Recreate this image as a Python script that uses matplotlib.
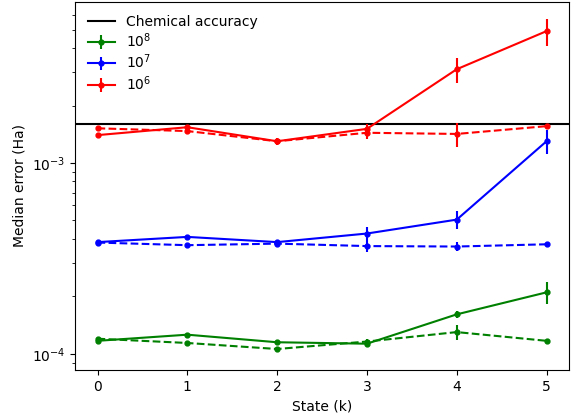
import numpy as np
import matplotlib
matplotlib.use("Agg")
import matplotlib.pyplot as plt


#States and chemical accuracy
states = [0, 1, 2, 3, 4, 5]
chem_acc = 1.6e-3

#Median errors (Ha), solid and dashed series per shot count
err_1e8_solid = [1.17e-4, 1.26e-4, 1.15e-4, 1.13e-4, 1.61e-4, 2.10e-4]
err_1e8_dash = [1.20e-4, 1.14e-4, 1.06e-4, 1.16e-4, 1.30e-4, 1.17e-4]
err_1e7_solid = [3.85e-4, 4.10e-4, 3.85e-4, 4.27e-4, 5.05e-4, 1.30e-3]
err_1e7_dash = [3.83e-4, 3.71e-4, 3.78e-4, 3.67e-4, 3.65e-4, 3.75e-4]
err_1e6_solid = [1.40e-3, 1.54e-3, 1.30e-3, 1.51e-3, 3.10e-3, 4.91e-3]
err_1e6_dash = [1.52e-3, 1.47e-3, 1.30e-3, 1.44e-3, 1.42e-3, 1.56e-3]

#Error bar half-widths
sd_1e8_solid = [2e-6, 3e-6, 2e-6, 3e-6, 7e-6, 2.7e-5]
sd_1e8_dash = [2e-6, 2e-6, 3e-6, 4e-6, 1.2e-5, 2e-6]
sd_1e7_solid = [5e-6, 5e-6, 6e-6, 3.7e-5, 5.5e-5, 1.9e-4]
sd_1e7_dash = [4e-6, 4e-6, 5e-6, 2.5e-5, 2e-5, 4e-6]
sd_1e6_solid = [2e-5, 3e-5, 5e-5, 1e-4, 4.7e-4, 8e-4]
sd_1e6_dash = [2e-5, 4e-5, 3e-5, 1e-4, 2e-4, 2e-5]


fig, ax = plt.subplots(figsize=(5.73, 4.17), dpi=100)
fig.subplots_adjust(left=0.131, right=0.993, top=0.995, bottom=0.113)

ax.axhline(chem_acc, color="black", lw=1.5, label="Chemical accuracy")

series = [
    ("green", r"$10^8$", err_1e8_solid, sd_1e8_solid, err_1e8_dash, sd_1e8_dash),
    ("blue", r"$10^7$", err_1e7_solid, sd_1e7_solid, err_1e7_dash, sd_1e7_dash),
    ("red", r"$10^6$", err_1e6_solid, sd_1e6_solid, err_1e6_dash, sd_1e6_dash),
]
for color, label, ys, es, yd, ed in series:
    ax.errorbar(states, ys, yerr=es, color=color, marker="o", ms=3.5,
                lw=1.5, label=label)
    ax.errorbar(states, yd, yerr=ed, color=color, marker="o", ms=3.5,
                lw=1.5, ls="--")

ax.set_yscale("log")
ax.set_ylim(8.24e-5, 6.97e-3)
ax.set_xlabel("State (k)")
ax.set_ylabel("Median error (Ha)")
ax.legend(loc="upper left", frameon=False, labelspacing=0.2)

plt.savefig("out.png", dpi=100)
